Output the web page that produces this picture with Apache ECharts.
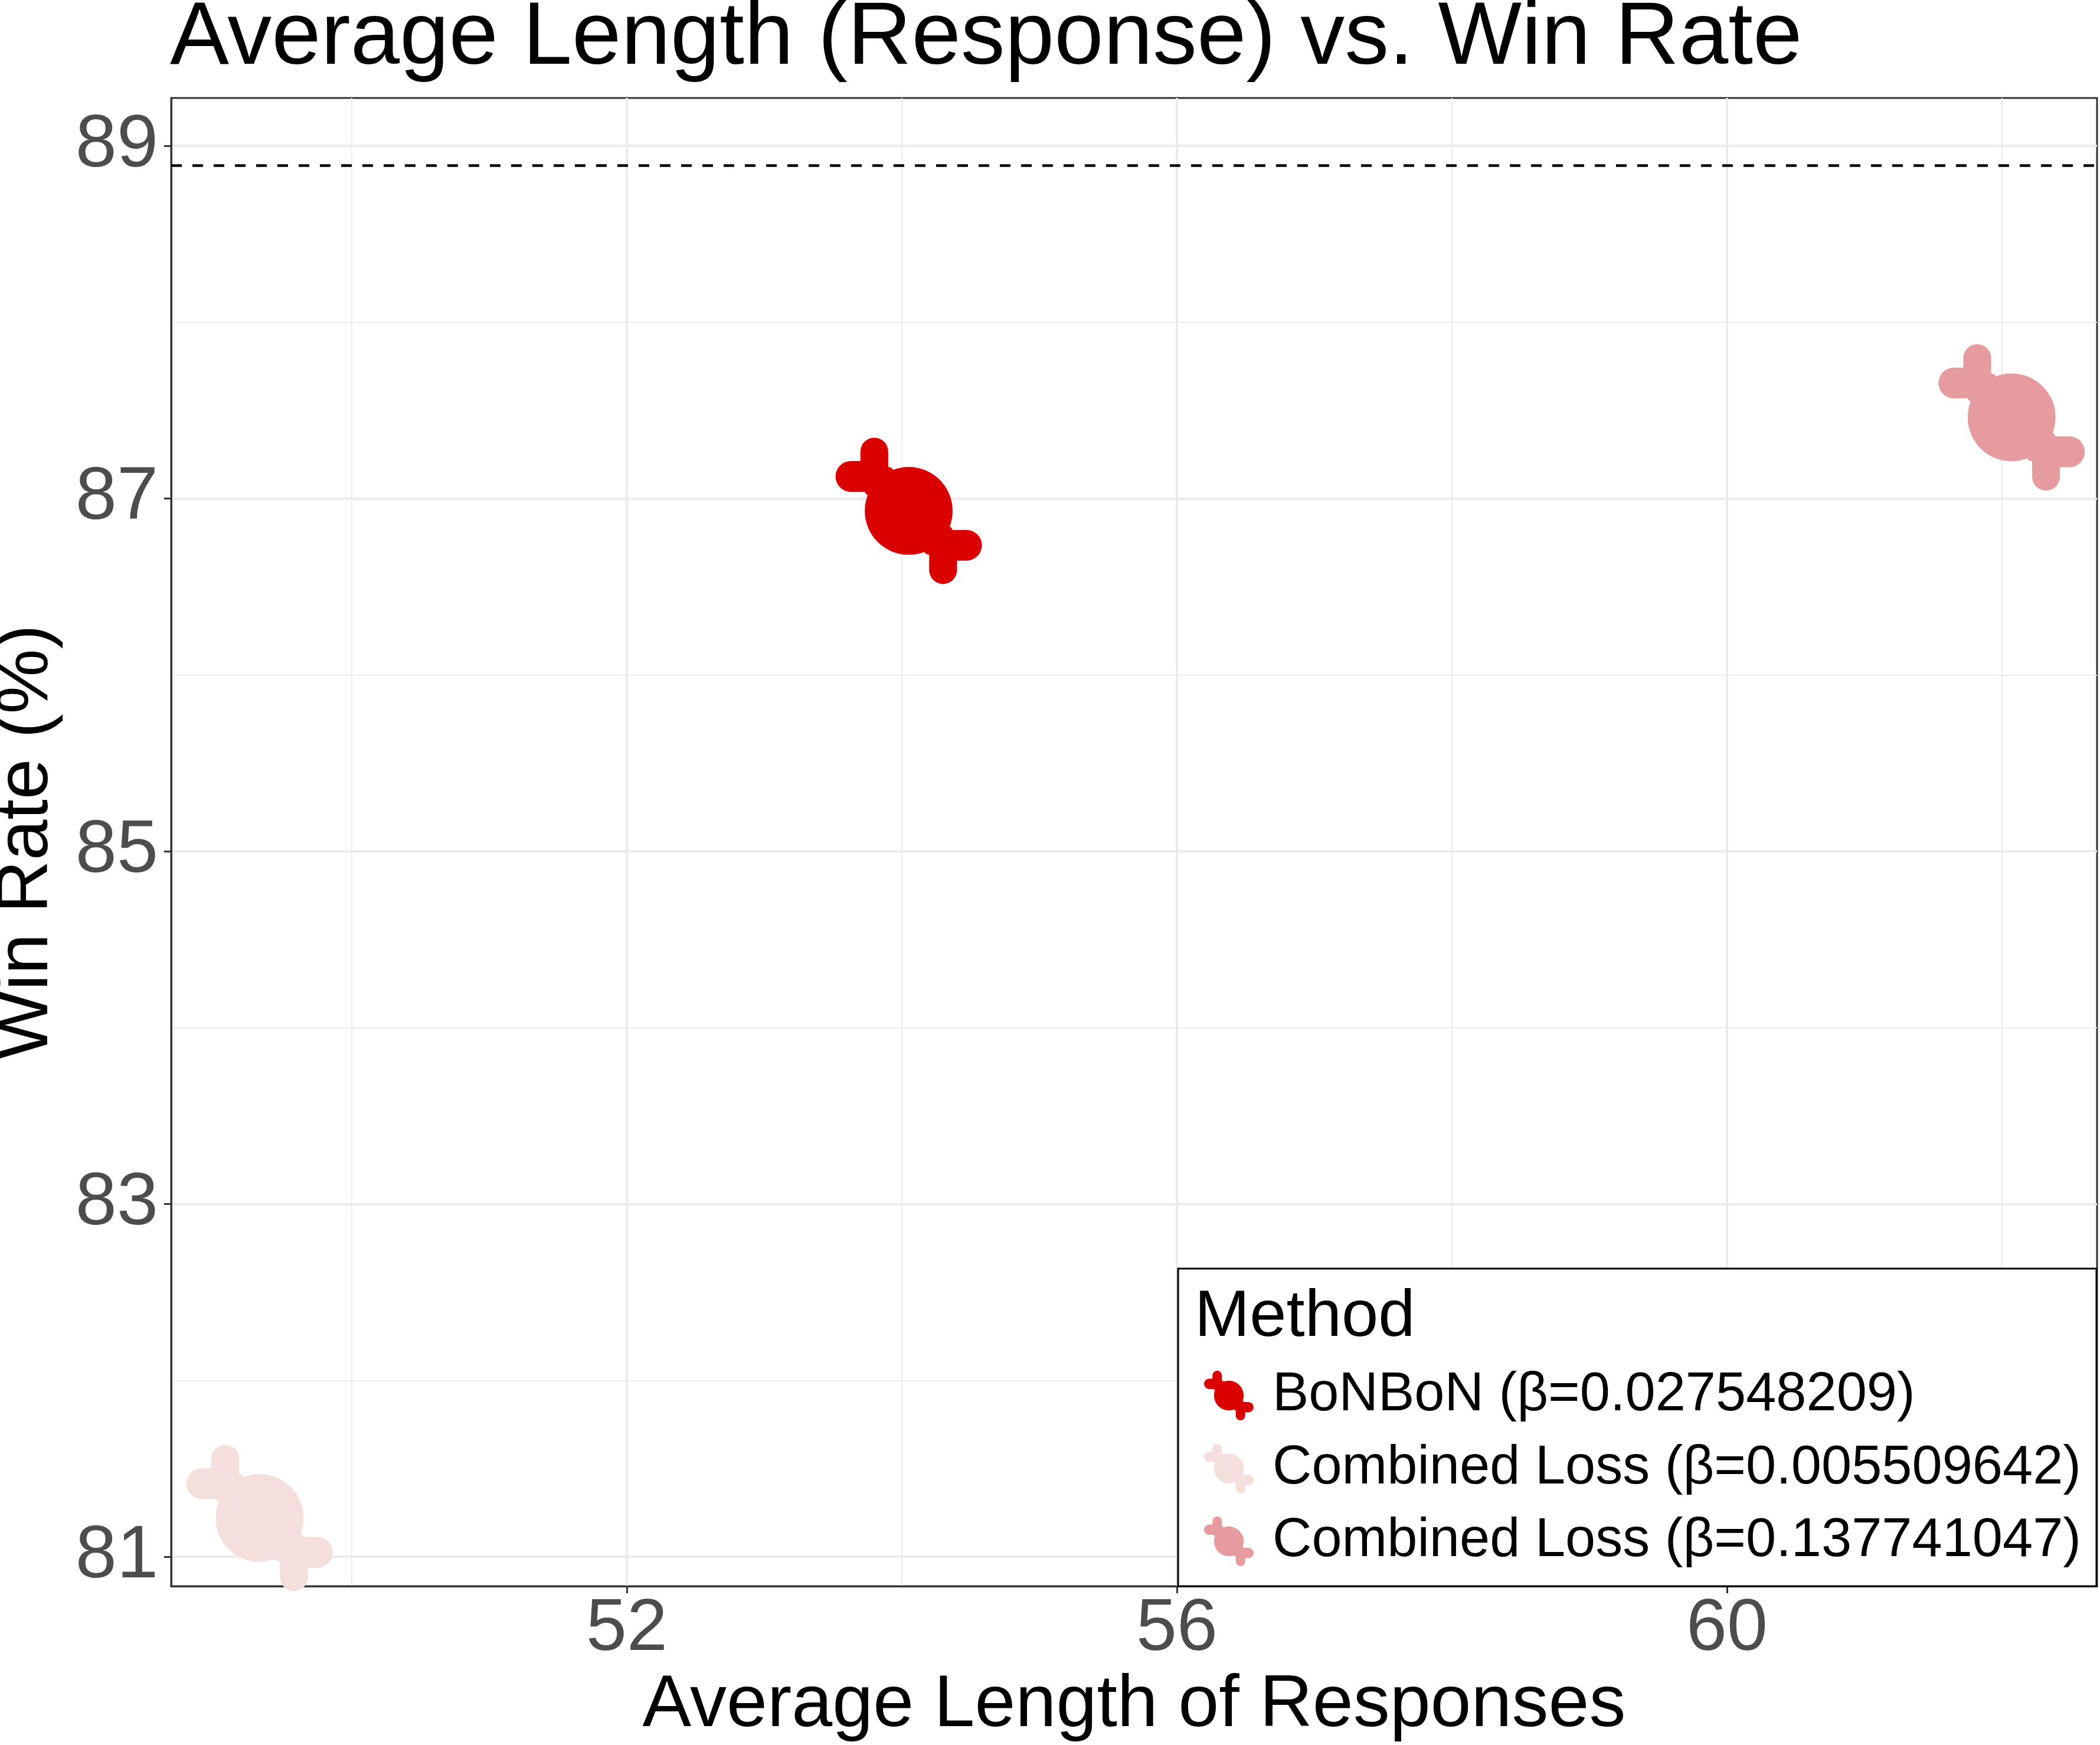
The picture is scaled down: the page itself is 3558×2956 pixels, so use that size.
<!DOCTYPE html>
<html>
<head>
<meta charset="utf-8">
<title>Average Length (Response) vs. Win Rate</title>
<script src="https://cdn.jsdelivr.net/npm/echarts@6.0.0/dist/echarts.min.js"></script>
<style>
    html, body { margin: 0; padding: 0; background: #fff; }
    #chartBox { width: 3558px; height: 2956px; }
</style>
</head>
<body>
<div id="chartBox"></div>
<script>
// data
var methods = ['BoNBoN (β=0.027548209)', 'Combined Loss (β=0.005509642)', 'Combined Loss (β=0.137741047)'];
var avgLength = [54.05, 49.33, 62.07];
var winRate = [86.93, 81.22, 87.46];
var methodColors = ['#DA0000', '#F4DFDC', '#E69B9F'];
var referenceWinRate = 88.89;

var xTicks = [52, 56, 60];
var xMinorTicks = [50, 54, 58, 62];
var yTicks = [81, 83, 85, 87, 89];
var yMinorTicks = [82, 84, 86, 88];
var xRange = [48.687, 62.691];
var yRange = [80.833, 89.271];

var fontName = '"Liberation Sans", Arial, Helvetica, sans-serif';

// candy shape: round body + two twisted wrapper ends
function roundRect(x, y, w, h, r) {
    return 'M' + (x + r) + ' ' + y +
        ' L' + (x + w - r) + ' ' + y +
        ' A' + r + ' ' + r + ' 0 0 1 ' + (x + w) + ' ' + (y + r) +
        ' L' + (x + w) + ' ' + (y + h - r) +
        ' A' + r + ' ' + r + ' 0 0 1 ' + (x + w - r) + ' ' + (y + h) +
        ' L' + (x + r) + ' ' + (y + h) +
        ' A' + r + ' ' + r + ' 0 0 1 ' + x + ' ' + (y + h - r) +
        ' L' + x + ' ' + (y + r) +
        ' A' + r + ' ' + r + ' 0 0 1 ' + (x + r) + ' ' + y + ' Z';
}
function circlePath(cx, cy, r) {
    return 'M' + (cx + r) + ' ' + cy +
        ' A' + r + ' ' + r + ' 0 1 1 ' + (cx - r) + ' ' + cy +
        ' A' + r + ' ' + r + ' 0 1 1 ' + (cx + r) + ' ' + cy + ' Z';
}
var candyPath = 'path://' + [
    roundRect(17, 0, 19, 34, 9.5),
    roundRect(0, 16, 34, 21, 10.5),
    roundRect(64, 66, 19, 34, 9.5),
    roundRect(66, 63, 34, 21, 10.5),
    // fill the necks between wrapper and body
    roundRect(20, 20, 20, 20, 4),
    roundRect(60, 60, 20, 20, 4),
    circlePath(50, 50, 30)
].join(' ');

var seriesList = [];
for (var i = 0; i < methods.length; i++) {
    var s = {
        name: methods[i],
        type: 'scatter',
        xAxisIndex: 0,
        yAxisIndex: 0,
        symbol: candyPath,
        symbolSize: 248,
        symbolKeepAspect: true,
        itemStyle: { color: methodColors[i], opacity: 1 },
        data: [[avgLength[i], winRate[i]]],
        z: 2
    };
    if (i === 0) {
        s.markLine = {
            silent: true,
            symbol: ['none', 'none'],
            label: { show: false },
            lineStyle: { color: '#000', width: 4.5, type: [18, 18] },
            data: [{ yAxis: referenceWinRate }]
        };
    }
    seriesList.push(s);
}

var gridLine = { show: true, lineStyle: { color: '#EBEBEB', width: 4 } };
var minorGridLine = { show: true, lineStyle: { color: '#EBEBEB', width: 2 } };

var option = {
    animation: false,
    backgroundColor: '#fff',
    textStyle: { fontFamily: fontName },
    title: {
        text: 'Average Length (Response) vs. Win Rate',
        left: 288,
        top: -8,
        padding: 0,
        textStyle: { fontSize: 150, fontWeight: 'normal', color: '#000', fontFamily: fontName }
    },
    grid: {
        left: 290,
        right: 5,
        top: 166,
        bottom: 269,
        outerBoundsMode: 'none',
        containLabel: false,
        show: true,
        backgroundColor: '#fff',
        borderColor: '#333',
        borderWidth: 3
    },
    xAxis: [
        {
            type: 'value',
            min: xRange[0],
            max: xRange[1],
            name: 'Average Length of Responses',
            nameLocation: 'middle',
            nameGap: 140,
            nameTextStyle: { fontSize: 124, color: '#000', fontFamily: fontName },
            axisLine: { show: true, onZero: false, lineStyle: { color: '#333', width: 3 } },
            axisTick: { show: true, length: 12, customValues: xTicks, lineStyle: { color: '#333', width: 3 } },
            axisLabel: { customValues: xTicks, margin: 12, fontSize: 124, color: '#4D4D4D', fontFamily: fontName },
            splitLine: gridLine
        },
        {
            type: 'value',
            min: xRange[0],
            max: xRange[1],
            axisLine: { show: false },
            axisTick: { show: false, customValues: xMinorTicks },
            axisLabel: { show: false, customValues: xMinorTicks },
            splitLine: minorGridLine
        }
    ],
    yAxis: [
        {
            type: 'value',
            min: yRange[0],
            max: yRange[1],
            name: 'Win Rate (%)',
            nameLocation: 'middle',
            nameGap: 182,
            nameTextStyle: { fontSize: 124, color: '#000', fontFamily: fontName },
            axisLine: { show: true, onZero: false, lineStyle: { color: '#333', width: 3 } },
            axisTick: { show: true, length: 12, customValues: yTicks, lineStyle: { color: '#333', width: 3 } },
            axisLabel: { customValues: yTicks, margin: 22, fontSize: 126, color: '#4D4D4D', fontFamily: fontName },
            splitLine: gridLine
        },
        {
            type: 'value',
            min: yRange[0],
            max: yRange[1],
            axisLine: { show: false },
            axisTick: { show: false, customValues: yMinorTicks },
            axisLabel: { show: false, customValues: yMinorTicks },
            splitLine: minorGridLine
        }
    ],
    legend: {
        orient: 'vertical',
        left: 2040,
        top: 2318,
        padding: 0,
        itemWidth: 138,
        itemHeight: 84,
        itemGap: 31.5,
        selectedMode: false,
        data: methods.map(function (m) { return { name: m, icon: candyPath }; }),
        textStyle: { fontSize: 92, lineHeight: 84, color: '#000', fontFamily: fontName },
        z: 6
    },
    graphic: [
        {
            type: 'rect',
            z: 4,
            shape: { x: 1996, y: 2149, width: 1556, height: 538 },
            style: { fill: '#fff', stroke: '#000', lineWidth: 3 }
        },
        {
            type: 'text',
            z: 7,
            style: {
                text: 'Method',
                x: 2024,
                y: 2232,
                verticalAlign: 'middle',
                font: '112px ' + fontName,
                fill: '#000'
            }
        }
    ],
    series: seriesList
};

var myChart = echarts.init(document.getElementById('chartBox'));
myChart.setOption(option);
</script>
</body>
</html>
